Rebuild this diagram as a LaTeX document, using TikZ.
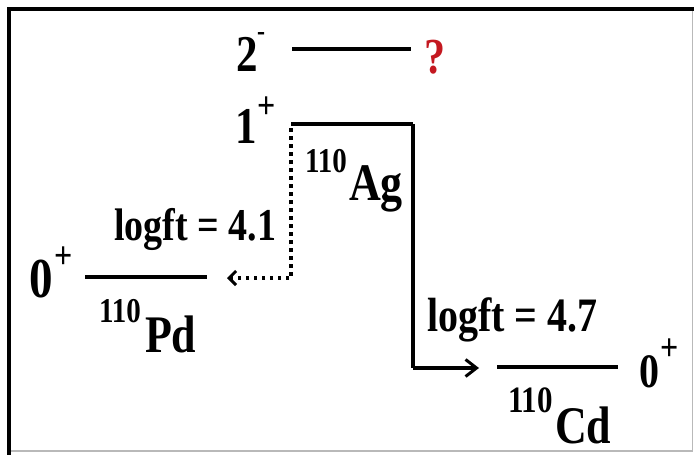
\documentclass[tikz,border=0pt]{standalone}
\usepackage{graphicx}
\usepackage{fontspec}
\setmainfont{Liberation Serif}
\usetikzlibrary{arrows.meta}
\definecolor{qred}{RGB}{196,24,32}
\definecolor{framegray}{RGB}{185,185,185}
\newcommand\vtxt[2]{\scalebox{1}[1.2]{\fontsize{#1}{#1}\selectfont\bfseries #2}}
\tikzset{
  lbl/.style={anchor=base west, inner sep=0pt, outer sep=0pt},
  levelline/.style={line width=4pt},
  decayline/.style={line width=3.5pt},
  dotline/.style={line width=4pt, dash pattern=on 3.5pt off 4.5pt},
  solidtip/.style={-{Straight Barb[length=11pt,width=17pt,line width=3pt]}},
  dottip/.style={-{Straight Barb[length=7pt,width=14pt,line width=3pt]}}
}
\begin{document}
\begin{tikzpicture}[x=1pt,y=-1pt]
\useasboundingbox (0,0) rectangle (694,455);
% frame
\draw[framegray, line width=1.2pt] (692.5,9) -- (692.5,451) -- (9,451);
\draw[line width=4pt] (9,455) -- (9,9) -- (694,9);

% level end points
\coordinate (twoL) at (292,49);
\coordinate (twoR) at (411,49);
\coordinate (oneL) at (291,124);
\coordinate (oneR) at (413,124);
\coordinate (pdL) at (85,277);
\coordinate (pdR) at (207,277);
\coordinate (cdL) at (497,367);
\coordinate (cdR) at (618,367);
\coordinate (dotStart) at (291,128);
\coordinate (dotCorner) at (291,278);
\coordinate (dotEnd) at (227,278);
\coordinate (solCorner) at (413,368);
\coordinate (solEnd) at (479,368);

% levels
\draw[levelline] (twoL) -- (twoR);
\draw[levelline] (oneL) -- (oneR);
\draw[levelline] (pdL) -- (pdR);
\draw[levelline] (cdL) -- (cdR);

% decays
\draw[decayline] (oneR) -- (solCorner);
\draw[decayline, solidtip] (solCorner) -- (solEnd);
\draw[dotline, dottip] (dotStart) -- (dotCorner) -- (dotEnd);

% spin labels
\node[lbl] (two) at (236,71) {\vtxt{43}{2}};
\node[lbl] (twosup) at (257,40) {\vtxt{24}{-}};
\node[lbl, text=qred] (q) at (424,73) {\vtxt{42}{?}};
\node[lbl] (one) at (235,143) {\vtxt{43}{1}};
\node[lbl] (onesup) at (257,118) {\vtxt{32}{+}};
\node[lbl] (zeroL) at (29,297) {\vtxt{47}{0}};
\node[lbl] (zeroLsup) at (54,268) {\vtxt{32}{+}};
\node[lbl] (zeroR) at (639,387) {\vtxt{40}{0}};
\node[lbl] (zeroRsup) at (660,360) {\vtxt{32}{+}};

% nuclide labels
\node[lbl] (ag110) at (305,172) {\vtxt{29}{110}};
\node[lbl] (ag) at (349,200) {\vtxt{44}{Ag}};
\node[lbl] (pd110) at (99,322) {\vtxt{29}{110}};
\node[lbl] (pd) at (145,352) {\vtxt{44}{Pd}};
\node[lbl] (cd110) at (508,412) {\vtxt{31}{110}};
\node[lbl] (cd) at (555,443) {\vtxt{44}{Cd}};

% log ft labels
\node[lbl] (lft1) at (114,240) {\vtxt{38}{logft = 4.1}};
\node[lbl] (lft2) at (427,331) {\vtxt{40}{logft = 4.7}};
\end{tikzpicture}
\end{document}
